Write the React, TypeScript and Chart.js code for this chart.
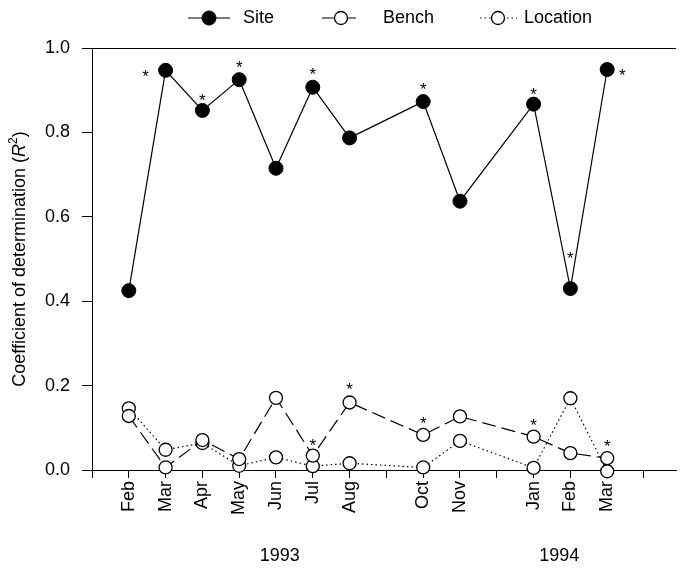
import React, { useEffect, useRef } from "react";
import { Chart, registerables } from "chart.js";

Chart.register(...registerables);

// ---- data ----
const tickLabels = ["", "Feb", "Mar", "Apr", "May", "Jun", "Jul", "Aug", "", "Oct", "Nov", "", "Jan", "Feb", "Mar", ""];
const sampleMonths = [1, 2, 3, 4, 5, 6, 7, 9, 10, 12, 13, 14];
const siteValues = [0.425, 0.947, 0.852, 0.925, 0.715, 0.907, 0.787, 0.873, 0.637, 0.867, 0.43, 0.949];
const benchValues = [0.128, 0.006, 0.071, 0.026, 0.171, 0.034, 0.16, 0.083, 0.127, 0.079, 0.04, 0.028];
const locationValues = [0.146, 0.048, 0.064, 0.01, 0.03, 0.009, 0.016, 0.006, 0.069, 0.005, 0.17, -0.003];
const siteSignificant = [false, true, true, true, false, true, false, true, false, true, true, true];
const benchSignificant = [false, false, false, false, false, true, true, true, false, true, false, true];
const locationSignificant = [false, false, false, false, false, false, false, false, false, false, false, false];
const yTicks = [0, 0.2, 0.4, 0.6, 0.8, 1.0];
const yearLabels = ["1993", "1994"];
const seriesNames = ["Site", "Bench", "Location"];

const FONT = "'Liberation Sans', Arial, Helvetica, sans-serif";

const toPoints = (vals: number[]) => vals.map((v, i) => ({ x: sampleMonths[i], y: v }));

const asteriskPlugin = {
  id: "asterisks",
  afterDatasetsDraw(chart: any, _args: any, opts: any) {
    const ctx = chart.ctx;
    const size = 17;
    ctx.save();
    ctx.font = `${size}px ${FONT}`;
    ctx.fillStyle = "#000";
    ctx.textAlign = "center";
    ctx.textBaseline = "alphabetic";
    chart.data.datasets.forEach((ds: any, di: number) => {
      const sig: boolean[] = ds.significant || [];
      const meta = chart.getDatasetMeta(di);
      meta.data.forEach((pt: any, i: number) => {
        if (!sig[i]) return;
        const off = (opts.offsets && opts.offsets[di] && opts.offsets[di][i]) || [0, -16];
        ctx.fillText("*", pt.x + off[0], pt.y + off[1] + size * 0.58);
      });
    });
    ctx.restore();
  },
};

const decorPlugin = {
  id: "decor",
  afterDraw(chart: any, _args: any, opts: any) {
    const ctx = chart.ctx;
    const area = chart.chartArea;
    ctx.save();
    // top frame line
    ctx.strokeStyle = "#000";
    ctx.lineWidth = 1;
    ctx.beginPath();
    ctx.moveTo(area.left, area.top + 0.5);
    ctx.lineTo(area.right, area.top + 0.5);
    ctx.stroke();

    // year labels
    const xs = chart.scales.x;
    ctx.font = `18px ${FONT}`;
    ctx.fillStyle = "#000";
    ctx.textAlign = "center";
    ctx.textBaseline = "middle";
    yearLabels.forEach((t, i) => {
      ctx.fillText(t, xs.getPixelForValue(opts.yearAt[i]), opts.yearY);
    });

    // y axis title with italic R and superscript 2
    ctx.save();
    ctx.translate(opts.titleX, (area.top + area.bottom) / 2 + opts.titleDy);
    ctx.rotate(-Math.PI / 2);
    const parts = [
      { t: "Coefficient of determination (", f: `18px ${FONT}`, dy: 0 },
      { t: "R", f: `italic 18px ${FONT}`, dy: 0 },
      { t: "2", f: `12px ${FONT}`, dy: -6 },
      { t: ")", f: `18px ${FONT}`, dy: 0 },
    ];
    let total = 0;
    parts.forEach((p) => {
      ctx.font = p.f;
      total += ctx.measureText(p.t).width;
    });
    let x = -total / 2;
    ctx.textAlign = "left";
    parts.forEach((p) => {
      ctx.font = p.f;
      ctx.fillText(p.t, x, p.dy);
      x += ctx.measureText(p.t).width;
    });
    ctx.restore();

    // legend
    const items = opts.legend;
    ctx.font = `18px ${FONT}`;
    ctx.textBaseline = "middle";
    ctx.textAlign = "left";
    chart.data.datasets.forEach((ds: any, di: number) => {
      const it = items[di];
      const y = opts.legendY;
      ctx.save();
      ctx.strokeStyle = "#000";
      ctx.lineWidth = ds.borderWidth;
      ctx.setLineDash(ds.borderDash || []);
      ctx.beginPath();
      ctx.moveTo(it.x0, y);
      ctx.lineTo(it.x1, y);
      ctx.stroke();
      ctx.setLineDash([]);
      ctx.beginPath();
      ctx.arc(it.m, y, ds.pointRadius, 0, Math.PI * 2);
      ctx.fillStyle = ds.pointBackgroundColor;
      ctx.fill();
      ctx.lineWidth = ds.pointBorderWidth;
      ctx.strokeStyle = ds.pointBorderColor;
      ctx.stroke();
      ctx.restore();
      ctx.fillStyle = "#000";
      ctx.fillText(ds.label, it.tx, y);
    });
    ctx.restore();
  },
};

export default function App() {
  const ref = useRef<HTMLCanvasElement | null>(null);
  useEffect(() => {
    document.body.style.margin = "0";
    if (!ref.current) return;
    const chart = new Chart(ref.current, {
      type: "line",
      data: {
        datasets: [
          {
            label: seriesNames[0],
            data: toPoints(siteValues),
            significant: siteSignificant,
            borderColor: "#000",
            borderWidth: 1.2,
            pointRadius: 7,
            pointBackgroundColor: "#000",
            pointBorderColor: "#000",
            pointBorderWidth: 1,
            clip: false,
          } as any,
          {
            label: seriesNames[1],
            data: toPoints(benchValues),
            significant: benchSignificant,
            borderColor: "#000",
            borderWidth: 1.2,
            borderDash: [14, 6],
            pointRadius: 6.5,
            pointBackgroundColor: "#fff",
            pointBorderColor: "#000",
            pointBorderWidth: 1.3,
            clip: false,
          } as any,
          {
            label: seriesNames[2],
            data: toPoints(locationValues),
            significant: locationSignificant,
            borderColor: "#000",
            borderWidth: 1.2,
            borderDash: [1.5, 3],
            pointRadius: 6.5,
            pointBackgroundColor: "#fff",
            pointBorderColor: "#000",
            pointBorderWidth: 1.3,
            clip: false,
          } as any,
        ],
      },
      options: {
        animation: false,
        responsive: true,
        maintainAspectRatio: false,
        layout: { padding: { top: 48, left: 0, right: 0, bottom: 0 } },
        plugins: {
          legend: { display: false },
          tooltip: { enabled: false },
          asterisks: {
            offsets: {
              0: { 1: [-20, 2], 2: [0, -14], 3: [0, -17], 5: [0, -17], 7: [0, -16], 9: [0, -14], 10: [0, -34], 11: [15, 2] },
              1: { 5: [0, -15], 6: [0, -17], 7: [0, -16], 9: [0, -16], 11: [0, -16] },
            },
          },
          decor: {
            yearAt: [5.1, 12.7],
            yearY: 556,
            titleX: 20,
            titleDy: 0,
            legendY: 18,
            legend: [
              { x0: 188, x1: 230, m: 209, tx: 243 },
              { x0: 322, x1: 361, m: 341, tx: 383 },
              { x0: 480, x1: 517, m: 498, tx: 524 },
            ],
          },
        } as any,
        scales: {
          x: {
            type: "linear",
            min: 0,
            max: 15.87,
            position: "bottom",
            afterFit: (s: any) => {
              s.height = 99;
            },
            ticks: {
              stepSize: 1,
              autoSkip: false,
              includeBounds: false,
              maxRotation: 90,
              minRotation: 90,
              padding: 3,
              color: "#000",
              font: { family: FONT, size: 18 },
              callback: (v: any) => tickLabels[Math.round(Number(v))] ?? "",
            },
            grid: { drawOnChartArea: false, drawTicks: true, tickLength: 8, color: "#000", tickColor: "#000", lineWidth: 1 },
            border: { display: true, color: "#000", width: 1 },
          },
          y: {
            type: "linear",
            min: 0,
            max: 1,
            afterFit: (s: any) => {
              s.width = 92;
            },
            afterBuildTicks: (s: any) => {
              s.ticks = yTicks.map((v) => ({ value: v }));
            },
            ticks: {
              padding: 12,
              color: "#000",
              font: { family: FONT, size: 18 },
              callback: (v: any) => Number(v).toFixed(1),
            },
            grid: { drawOnChartArea: false, drawTicks: true, tickLength: 10, color: "#000", tickColor: "#000", lineWidth: 1 },
            border: { display: true, color: "#000", width: 1 },
          },
        },
      },
      plugins: [asteriskPlugin, decorPlugin],
    } as any);
    return () => chart.destroy();
  }, []);
  return (
    <div style={{ position: "relative", width: 684, height: 569 }}>
      <canvas ref={ref} />
    </div>
  );
}
